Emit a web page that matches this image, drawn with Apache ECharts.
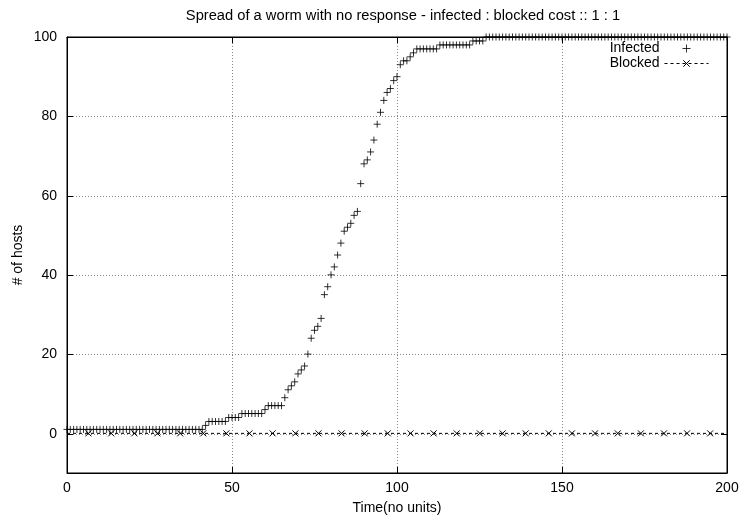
<!DOCTYPE html>
<html>
<head>
<meta charset="utf-8">
<script src="https://cdn.jsdelivr.net/npm/echarts@6/dist/echarts.min.js"></script>
<style>html,body{margin:0;padding:0;background:#fff}#c{width:741px;height:519px}</style>
</head>
<body>
<div id="c"></div>
<script>
// ---- data ----
const titleText = 'Spread of a worm with no response - infected : blocked cost :: 1 : 1';
const xTickLabels = ['0', '50', '100', '150', '200'];
const yTickLabels = ['0', '20', '40', '60', '80', '100'];
// Infected hosts at time steps t = 0..200 (one value per time unit)
const infected = [
  1,1,1,1,1,1,1,1,1,1,
  1,1,1,1,1,1,1,1,1,1,
  1,1,1,1,1,1,1,1,1,1,
  1,1,1,1,1,1,1,1,1,1,
  1,1,2,3,3,3,3,3,3,4,
  4,4,4,5,5,5,5,5,5,5,
  6,7,7,7,7,7,9,11,12,13,
  15,16,17,20,24,26,27,29,35,37,
  40,42,45,48,51,52,53,55,56,63,
  68,69,71,74,78,81,84,86,87,89,
  90,93,94,94,95,96,97,97,97,97,
  97,97,97,98,98,98,98,98,98,98,
  98,98,98,99,99,99,99,100,100,100,
  100,100,100,100,100,100,100,100,100,100,
  100,100,100,100,100,100,100,100,100,100,
  100,100,100,100,100,100,100,100,100,100,
  100,100,100,100,100,100,100,100,100,100,
  100,100,100,100,100,100,100,100,100,100,
  100,100,100,100,100,100,100,100,100,100,
  100,100,100,100,100,100,100,100,100,100,
  100
];
// Blocked hosts: sampled marker times and values
const blockedT = [6.5,13.4,20.4,27.4,34.3,41.3,48.3,55.3,62.3,69.2,76.2,83.2,90.2,97.2,
                  104.1,111.1,118.1,125.1,132.0,139.0,146.0,153.0,160.0,166.9,173.9,180.9,187.9,194.9];
const blockedV = [0,0,0,0,0,0,0,0,0,0,0,0,0,0,0,0,0,0,0,0,0,0,0,0,0,0,0,0];
const blockedRange = [0, 200];   // extent of the dashed line
const blockedRangeV = [0, 0];

// ---- build ----
const FONT = 'Liberation Sans';
const infectedData = infected.map((v, t) => [t, v]);
const blockedData = [{value: [blockedRange[0], blockedRangeV[0]], symbol: 'none'}]
  .concat(blockedT.map((t, i) => [t, blockedV[i]]))
  .concat([{value: [blockedRange[1], blockedRangeV[1]], symbol: 'none'}]);

const txt = {color: '#000', fontSize: 14, fontFamily: FONT};
const dotted = {color: '#888', width: 1, type: [1, 2]};
const blackLine = {show: true, onZero: false, lineStyle: {color: '#000'}};
const noLine = {show: false, onZero: false};
const inTick = {show: true, inside: true, length: 6, lineStyle: {color: '#000'}};

const chart = echarts.init(document.getElementById('c'), null, {renderer: 'canvas'});
chart.setOption({
  animation: false,
  backgroundColor: '#fff',
  title: {
    text: titleText, left: 398, top: 3, textAlign: 'center',
    textStyle: {color: '#000', fontSize: 14.7, fontWeight: 'normal', fontFamily: FONT}
  },
  legend: {
    orient: 'vertical', right: 27, top: 36, align: 'right',
    itemWidth: 44, itemHeight: 8, itemGap: 0,
    itemStyle: {borderWidth: 1},
    lineStyle: {width: 1, type: [3, 3]},
    textStyle: Object.assign({lineHeight: 15}, txt),
    data: ['Infected', 'Blocked']
  },
  grid: [
    {left: 67, right: 14, top: 37, bottom: 46, show: true, borderColor: '#000', borderWidth: 1, outerBoundsMode: 'none', containLabel: false},
    {left: 67, right: 14, top: 37, bottom: 85, show: false, outerBoundsMode: 'none', containLabel: false}
  ],
  xAxis: [
    {
      gridIndex: 0, type: 'value', min: 0, max: 200, interval: 50, position: 'bottom',
      axisLine: blackLine, axisTick: inTick,
      axisLabel: Object.assign({margin: 8, formatter: (v) => xTickLabels[xTickLabels.indexOf(String(v))] || ''}, txt),
      splitLine: {show: true, showMinLine: false, showMaxLine: false, lineStyle: dotted},
      name: 'Time(no units)', nameLocation: 'middle', nameGap: 28, nameTextStyle: txt
    },
    {
      gridIndex: 0, type: 'value', min: 0, max: 200, interval: 50, position: 'top',
      axisLine: blackLine, axisTick: inTick,
      axisLabel: {show: false}, splitLine: {show: false}
    },
    {gridIndex: 1, type: 'value', min: 0, max: 200, show: false, axisLine: noLine}
  ],
  yAxis: [
    {
      gridIndex: 0, type: 'value', min: -10, max: 100, position: 'left',
      axisLine: blackLine,
      axisTick: {show: false}, axisLabel: {show: false}, splitLine: {show: false},
      name: '# of hosts', nameLocation: 'middle', nameGap: 42, nameRotate: 90, nameTextStyle: txt
    },
    {
      gridIndex: 0, type: 'value', min: -10, max: 100, position: 'right',
      axisLine: blackLine,
      axisTick: {show: false}, axisLabel: {show: false}, splitLine: {show: false}
    },
    {
      gridIndex: 1, type: 'value', min: 0, max: 100, interval: 20, position: 'left',
      axisLine: noLine, axisTick: inTick,
      axisLabel: Object.assign({margin: 10, formatter: (v) => yTickLabels[yTickLabels.indexOf(String(v))] || ''}, txt),
      splitLine: {show: true, showMinLine: true, showMaxLine: false, lineStyle: dotted}
    },
    {
      gridIndex: 1, type: 'value', min: 0, max: 100, interval: 20, position: 'right',
      axisLine: noLine, axisTick: inTick,
      axisLabel: {show: false}, splitLine: {show: false}
    }
  ],
  series: [
    {
      name: 'Blocked', type: 'line', xAxisIndex: 0, yAxisIndex: 0,
      data: blockedData, showAllSymbol: true,
      symbol: 'path://M0,0L10,10M0,10L10,0', symbolSize: 6,
      itemStyle: {color: 'transparent', borderColor: '#000', borderWidth: 1},
      lineStyle: {color: '#000', width: 1, type: [3, 3]},
      z: 2
    },
    {
      name: 'Infected', type: 'scatter', xAxisIndex: 0, yAxisIndex: 0,
      data: infectedData,
      symbol: 'path://M0,5L10,5M5,0L5,10', symbolSize: 7,
      itemStyle: {color: 'transparent', borderColor: '#000', borderWidth: 1},
      z: 3
    }
  ]
});
</script>
</body>
</html>
